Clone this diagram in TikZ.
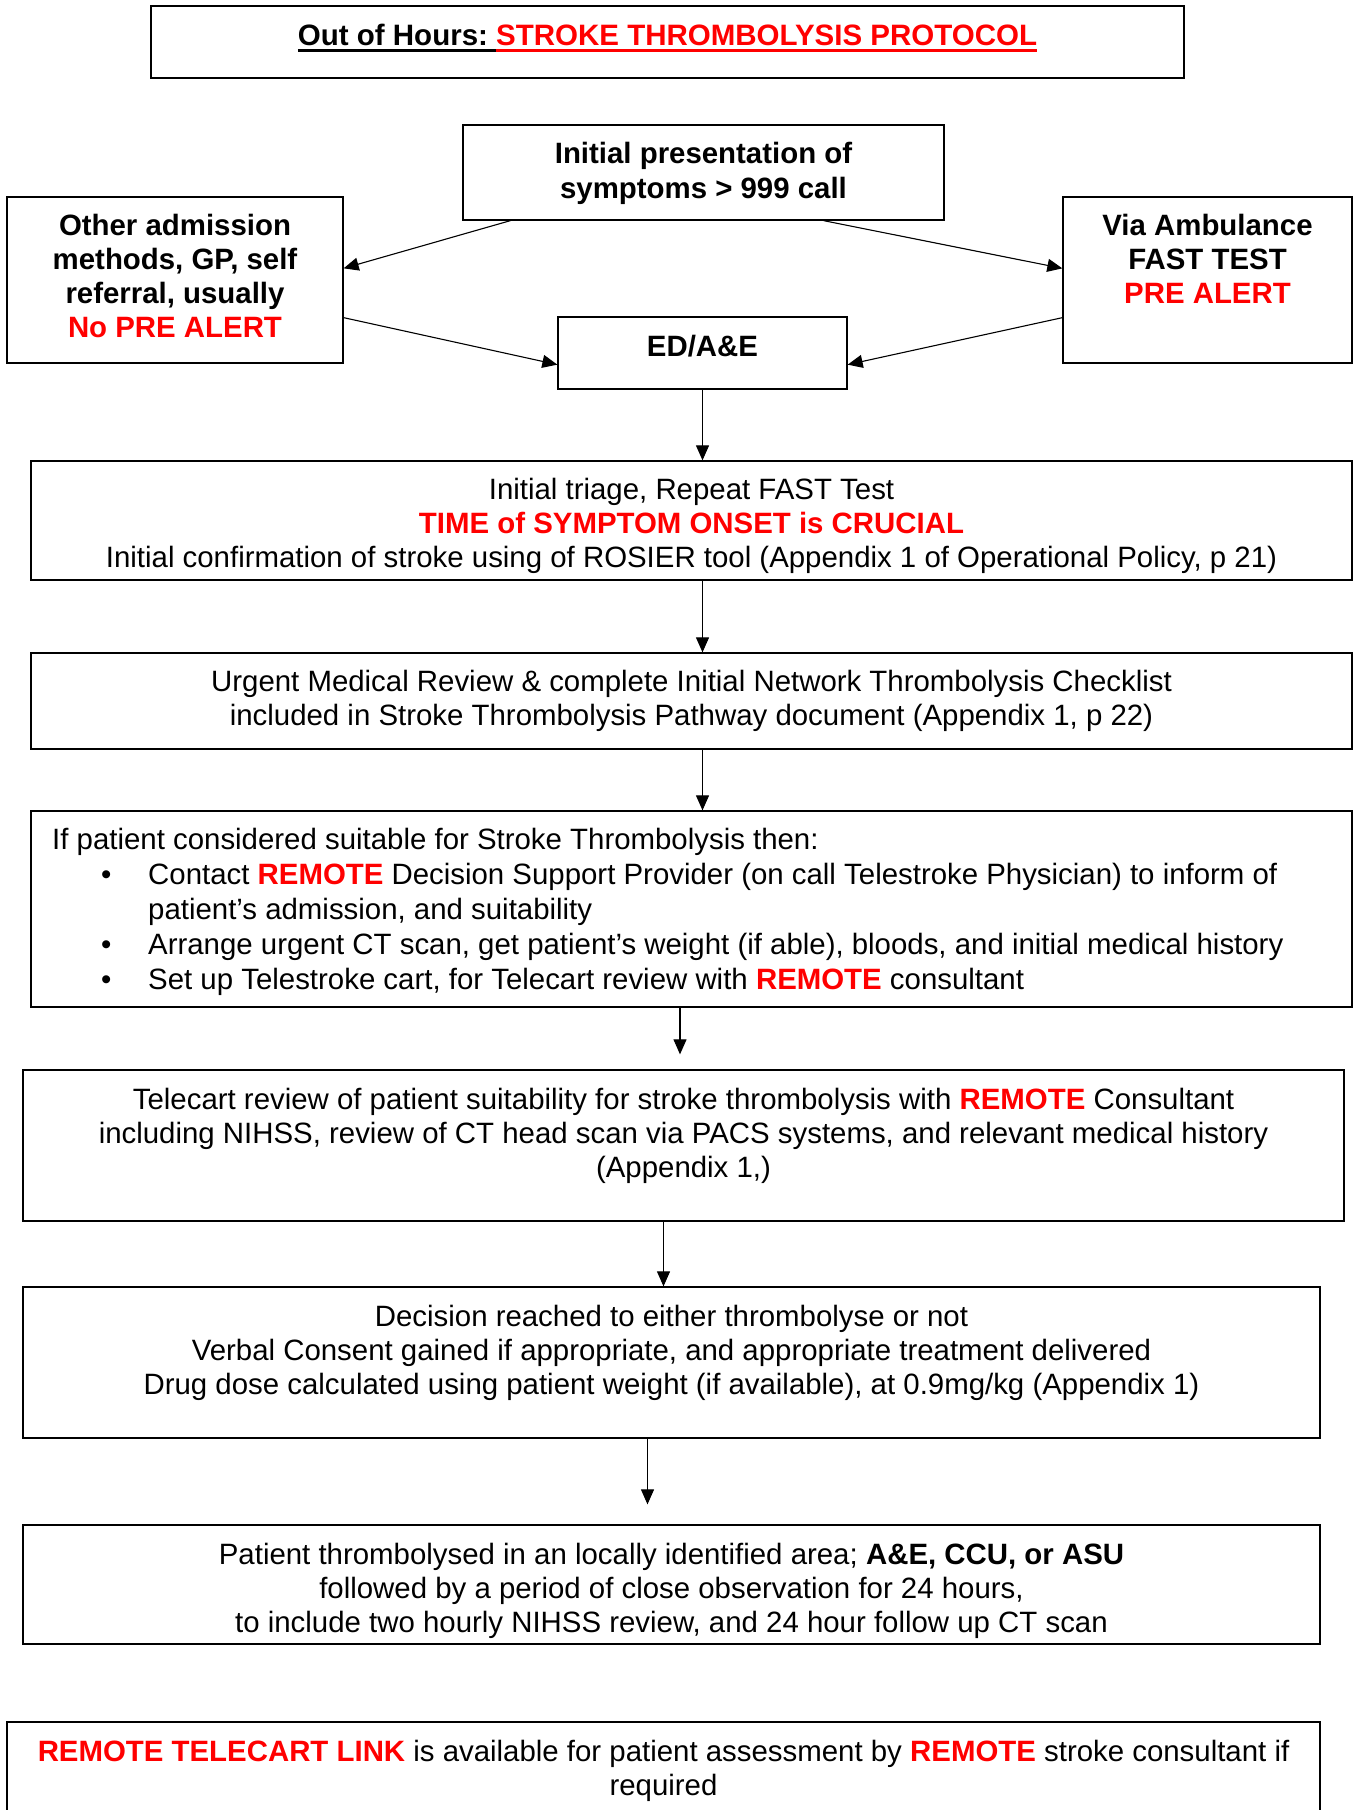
\documentclass[tikz,border=0pt]{standalone}
\usepackage{fontspec}
\setmainfont{Liberation Sans}
\usetikzlibrary{arrows.meta}
\definecolor{alertred}{RGB}{255,0,0}
\newcommand{\rd}[1]{\textcolor{alertred}{\textbf{#1}}}
\newcommand{\fl}{\rule{0pt}{24pt}}
\newsavebox{\ulbox}
\newcommand{\myul}[1]{\sbox{\ulbox}{#1}\rlap{\rule[-6.6pt]{\wd\ulbox}{2.8pt}}\usebox{\ulbox}}
\begin{document}
\begin{tikzpicture}[x=1pt,y=-1pt,
  box/.style={draw, line width=1.3pt, inner sep=0pt, rectangle},
  txt/.style={inner sep=0pt, align=center, anchor=north, font=\fontsize{29.4}{34}\selectfont},
  btxt/.style={inner sep=0pt, align=center, anchor=north, font=\fontsize{29.4}{34}\selectfont\bfseries},
  arr/.style={line width=1.1pt, -{Triangle[length=15pt,width=13pt]}}]
\useasboundingbox (0,0) rectangle (1357,1810);

% boxes
\node[box, minimum width=1033pt, minimum height=72pt] (titlebox) at (667.5,42) {};
\node[box, minimum width=481pt, minimum height=95pt] (pres) at (703.5,172.5) {};
\node[box, minimum width=336pt, minimum height=166pt] (other) at (175,280) {};
\node[box, minimum width=289pt, minimum height=166pt] (amb) at (1207.5,280) {};
\node[box, minimum width=289pt, minimum height=72pt] (ed) at (702.5,353) {};
\node[box, minimum width=1321pt, minimum height=119pt] (triage) at (691.5,520.5) {};
\node[box, minimum width=1321pt, minimum height=96pt] (urgent) at (691.5,701) {};
\node[box, minimum width=1321pt, minimum height=196pt] (ifbox) at (691.5,909) {};
\node[box, minimum width=1321pt, minimum height=151pt] (telecart) at (683.5,1145.5) {};
\node[box, minimum width=1297pt, minimum height=151pt] (decision) at (671.5,1362.5) {};
\node[box, minimum width=1297pt, minimum height=119pt] (thromb) at (671.5,1584.5) {};
\node[box, minimum width=1313pt, minimum height=120pt] (remote) at (663.5,1782) {};

% texts
\node[inner sep=0pt, anchor=base, font=\fontsize{29.5}{34}\selectfont\bfseries] (titletext) at (667.5,45)
  {\myul{Out of Hours:\ }\textcolor{alertred}{\myul{STROKE THROMBOLYSIS PROTOCOL}}};
\node[btxt, font=\fontsize{29.4}{35}\selectfont\bfseries] (prestext) at (703.5,139)
  {\fl Initial presentation of\\symptoms > 999 call};
\node[btxt] (othertext) at (175,211)
  {\fl Other admission\\methods, GP, self\\referral, usually\\\textcolor{alertred}{No PRE ALERT}};
\node[btxt] (ambtext) at (1207.5,211)
  {\fl Via Ambulance\\FAST TEST\\\textcolor{alertred}{PRE ALERT}};
\node[btxt] (edtext) at (702.5,332) {\fl ED/A\&E};
\node[txt] (triagetext) at (691.5,475)
  {\fl Initial triage, Repeat FAST Test\\\rd{TIME of SYMPTOM ONSET is CRUCIAL}\\Initial confirmation of stroke using of ROSIER tool (Appendix 1 of Operational Policy, p 21)};
\node[txt] (urgenttext) at (691.5,667.5)
  {\fl Urgent Medical Review \& complete Initial Network Thrombolysis Checklist\\included in Stroke Thrombolysis Pathway document (Appendix 1, p 22)};
\node[txt, align=left, anchor=north west, font=\fontsize{29.4}{35}\selectfont] (iftext) at (52,825)
  {\fl If patient considered suitable for Stroke Thrombolysis then:\\
   \hspace*{49pt}\makebox[47pt][l]{•}Contact \rd{REMOTE} Decision Support Provider (on call Telestroke Physician) to inform of\\
   \hspace*{96pt}patient’s admission, and suitability\\
   \hspace*{49pt}\makebox[47pt][l]{•}Arrange urgent CT scan, get patient’s weight (if able), bloods, and initial medical history\\
   \hspace*{49pt}\makebox[47pt][l]{•}Set up Telestroke cart, for Telecart review with \rd{REMOTE} consultant};
\node[txt] (telecarttext) at (683.5,1085)
  {\fl Telecart review of patient suitability for stroke thrombolysis with \rd{REMOTE} Consultant\\including NIHSS, review of CT head scan via PACS systems, and relevant medical history\\(Appendix 1,)};
\node[txt] (decisiontext) at (671.5,1302)
  {\fl Decision reached to either thrombolyse or not\\Verbal Consent gained if appropriate, and appropriate treatment delivered\\Drug dose calculated using patient weight (if available), at 0.9mg/kg (Appendix 1)};
\node[txt] (thrombtext) at (671.5,1540.5)
  {\fl Patient thrombolysed in an locally identified area; \textbf{A\&E, CCU, or ASU}\\followed by a period of close observation for 24 hours,\\to include two hourly NIHSS review, and 24 hour follow up CT scan};
\node[txt] (remotetext) at (663.5,1737)
  {\fl \rd{REMOTE TELECART LINK} is available for patient assessment by \rd{REMOTE} stroke consultant if\\required};

% connectors
\draw[arr] ([xshift=48pt]pres.south west) -- ([yshift=-72pt]other.north east);
\draw[arr] ([xshift=-121pt]pres.south east) -- ([yshift=-72pt]amb.north west);
\draw[arr] ([yshift=46pt]other.south east) -- ([yshift=25pt]ed.south west);
\draw[arr] ([yshift=46pt]amb.south west) -- ([yshift=25pt]ed.south east);
\draw[arr] (ed.south) -- (ed.south |- triage.north);
\draw[arr] (triage.south -| ed.south) -- (urgent.north -| ed.south);
\draw[arr] (urgent.south -| ed.south) -- (ifbox.north -| ed.south);
\draw[arr] ([xshift=-11.5pt]ifbox.south) -- ([xshift=-3.5pt,yshift=15pt]telecart.north);
\draw[arr] ([xshift=-20pt]telecart.south) -- ([xshift=-8pt]decision.north);
\draw[arr] ([xshift=-24pt]decision.south) -- ([xshift=-24pt,yshift=20pt]thromb.north);
\end{tikzpicture}
\end{document}
